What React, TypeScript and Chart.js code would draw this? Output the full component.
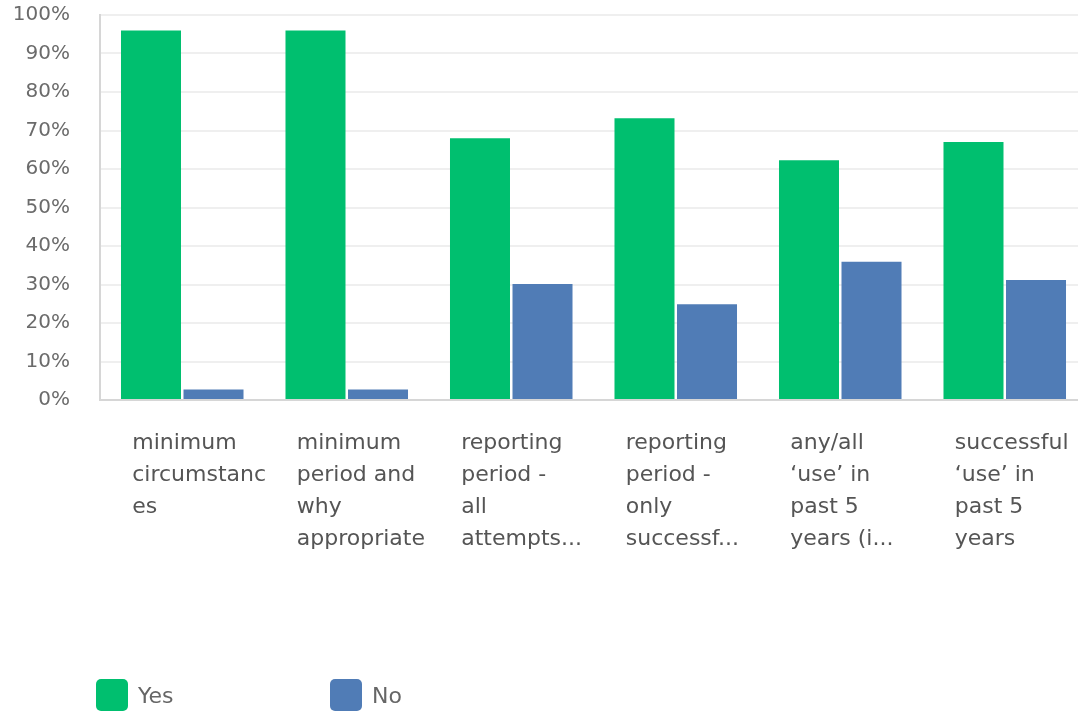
import { useEffect, useRef } from 'react';
import { Chart, registerables } from 'chart.js';

Chart.register(...registerables);

// x-axis labels, already wrapped / truncated as in the survey export
const categories: string[][] = [
  ['minimum', 'circumstanc', 'es'],
  ['minimum', 'period and', 'why', 'appropriate'],
  ['reporting', 'period -', 'all', 'attempts...'],
  ['reporting', 'period -', 'only', 'successf...'],
  ['any/all', '‘use’ in', 'past 5', 'years (i...'],
  ['successful', '‘use’ in', 'past 5', 'years'],
];

const yesValues = [96.0, 96.0, 68.0, 73.2, 62.3, 67.0];
const noValues = [2.7, 2.7, 30.1, 24.9, 35.9, 31.2];

const seriesNames = ['Yes', 'No'];
const seriesColors = ['#00bf6f', '#507cb6'];

const yMax = 100;
const yStep = 10;

const FONT = "'DejaVu Sans', sans-serif";

const App = () => {
  const canvasRef = useRef<HTMLCanvasElement>(null);
  const chartRef = useRef<Chart | null>(null);

  useEffect(() => {
    document.body.style.margin = '0';
    const ctx = canvasRef.current?.getContext('2d');
    if (!ctx) return;

    if (chartRef.current) {
      chartRef.current.destroy();
    }

    chartRef.current = new Chart(ctx, {
      type: 'bar',
      data: {
        labels: categories,
        datasets: [
          {
            label: seriesNames[0],
            data: yesValues,
            backgroundColor: seriesColors[0],
            categoryPercentage: 0.76,
            barPercentage: 0.96,
          },
          {
            label: seriesNames[1],
            data: noValues,
            backgroundColor: seriesColors[1],
            categoryPercentage: 0.76,
            barPercentage: 0.96,
          },
        ],
      },
      options: {
        animation: false,
        responsive: true,
        maintainAspectRatio: false,
        layout: {
          padding: { top: 15, left: 13, right: 3, bottom: 155 },
        },
        plugins: {
          legend: { display: false },
          tooltip: { enabled: false },
        },
        scales: {
          x: {
            grid: { display: false, drawTicks: false },
            border: { color: '#d6d6d6', width: 2 },
            ticks: {
              color: '#555555',
              font: { family: FONT, size: 22, lineHeight: 1.4545 },
              align: 'start',
              labelOffset: -50,
              padding: 27,
              maxRotation: 0,
              autoSkip: false,
            },
            // labels are left-aligned and shifted, so drop the auto side padding
            afterFit: (scale: any) => {
              scale.paddingLeft = 0;
              scale.paddingRight = 0;
              scale.height = 156;
            },
          },
          y: {
            min: 0,
            max: yMax,
            grid: { color: '#efefef', lineWidth: 2, drawTicks: false },
            border: { color: '#d6d6d6', width: 2 },
            ticks: {
              stepSize: yStep,
              color: '#6b6b6b',
              padding: 30,
              font: { family: FONT, size: 20 },
              callback: (value) => value + '%',
            },
            afterFit: (scale: any) => {
              scale.paddingTop = 0;
              scale.paddingBottom = 0;
              scale.width = 87;
            },
          },
        },
      },
    });

    return () => {
      if (chartRef.current) {
        chartRef.current.destroy();
        chartRef.current = null;
      }
    };
  }, []);

  return (
    <div style={{ position: 'relative', width: 1078, height: 711, overflow: 'hidden', background: '#fff' }}>
      <div style={{ position: 'absolute', left: 0, top: 0, width: 1090, height: 711 }}>
        <canvas ref={canvasRef}></canvas>
      </div>
      <div style={{ position: 'absolute', left: 96, top: 679, display: 'flex', fontFamily: FONT }}>
        {seriesNames.map((name, i) => (
          <div key={name} style={{ display: 'flex', alignItems: 'center', width: 234 }}>
            <span
              style={{
                display: 'inline-block',
                width: 32,
                height: 32,
                borderRadius: 5,
                background: seriesColors[i],
                marginRight: 10,
              }}
            ></span>
            <span style={{ fontSize: 22, color: '#666' }}>{name}</span>
          </div>
        ))}
      </div>
    </div>
  );
};

export default App;
